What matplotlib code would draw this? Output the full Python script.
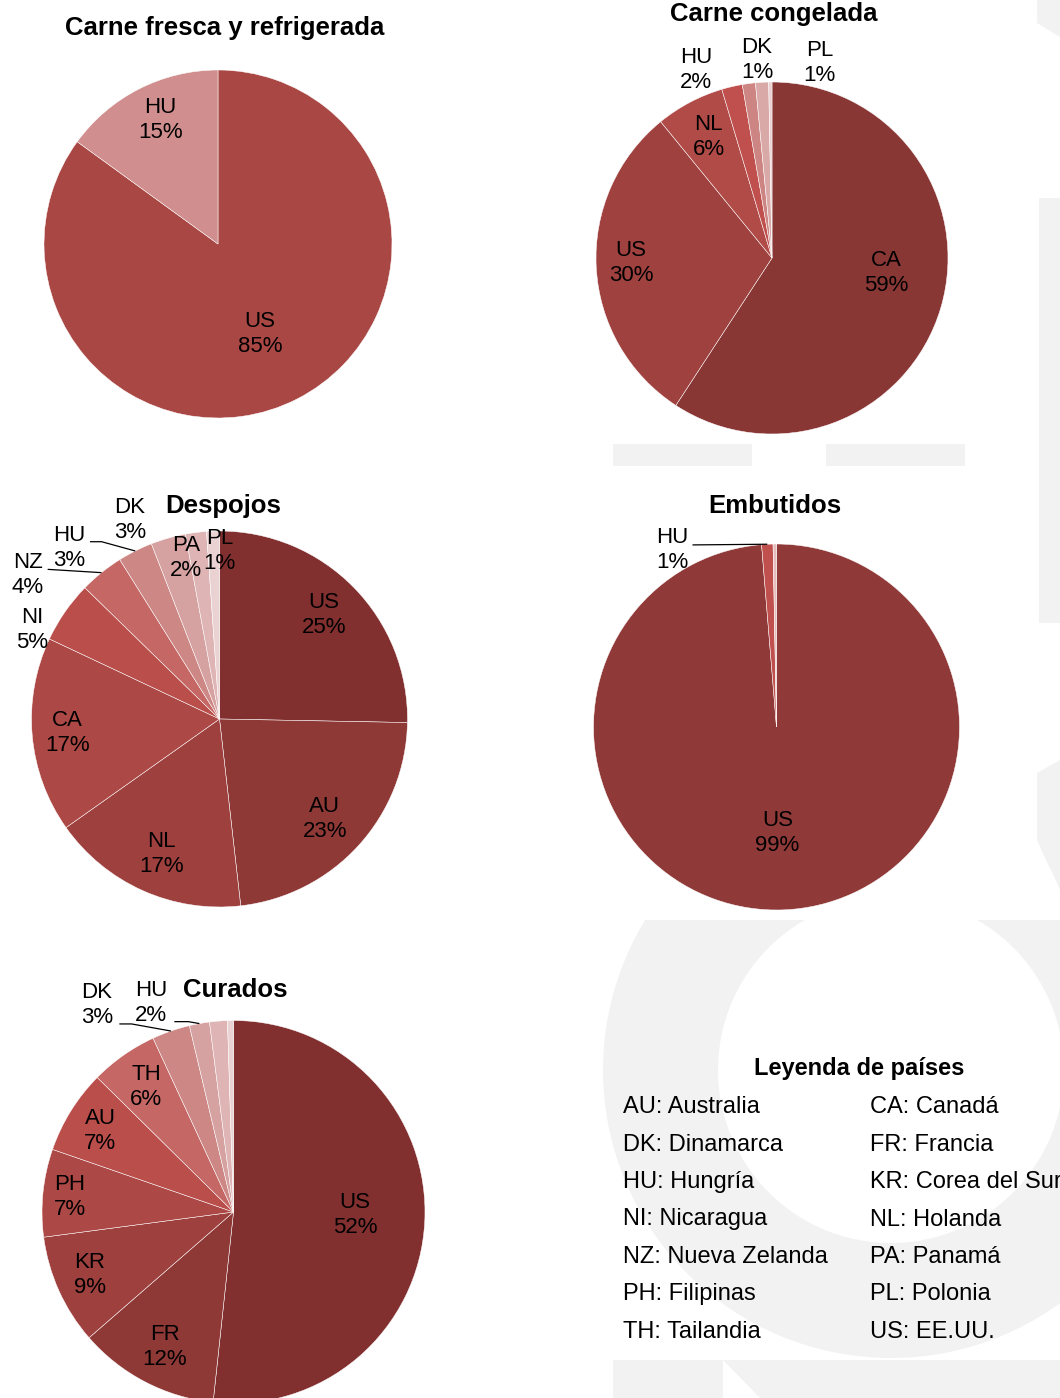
import matplotlib
matplotlib.use("Agg")
import matplotlib.pyplot as plt
from matplotlib.patches import Wedge, Rectangle, Polygon
import numpy as np

W, H = 1060, 1398
DPI = 100

plt.rcParams['font.family'] = ['Liberation Sans', 'DejaVu Sans']

# ---------------------------------------------------------------- data
fresca_paises = ["US", "HU"]
fresca_valores = [85.0, 15.0]

congelada_paises = ["CA", "US", "NL", "HU", "DK", "PL", ""]
congelada_valores = [59.2, 29.9, 6.3, 1.9, 1.2, 1.2, 0.3]

despojos_paises = ["US", "AU", "NL", "CA", "NI", "NZ", "HU", "DK", "PA", "PL"]
despojos_valores = [25.3, 22.9, 17.0, 16.8, 5.3, 3.8, 3.0, 3.0, 1.8, 1.1]

embutidos_paises = ["US", "HU", ""]
embutidos_valores = [98.7, 1.0, 0.3]

curados_paises = ["US", "FR", "KR", "PH", "AU", "TH", "DK", "HU", "", ""]
curados_valores = [51.7, 11.9, 9.3, 7.4, 7.1, 5.7, 3.2, 1.7, 1.5, 0.5]

leyenda_titulo = "Leyenda de países"
leyenda_col1 = ["AU: Australia", "DK: Dinamarca", "HU: Hungría", "NI: Nicaragua",
                "NZ: Nueva Zelanda", "PH: Filipinas", "TH: Tailandia"]
leyenda_col2 = ["CA: Canadá", "FR: Francia", "KR: Corea del Sur", "NL: Holanda",
                "PA: Panamá", "PL: Polonia", "US: EE.UU."]

# ---------------------------------------------------------------- styles
fresca_colores = ["#a94744", "#d08f8e"]
congelada_colores = ["#893735", "#9f413f", "#b14b48", "#c0504d", "#cd8583", "#d9a9a8", "#ead0d0"]
despojos_colores = ["#82302f", "#8f3937", "#9e403e", "#ac4845", "#b94e4b",
                    "#c46765", "#cd8785", "#d6a2a1", "#deb4b4", "#ebd2d2"]
embutidos_colores = ["#8f3a38", "#c0504d", "#e6bcbc"]
curados_colores = ["#82302f", "#8f3937", "#9e403e", "#ac4845", "#b94e4b",
                   "#c46765", "#cd8785", "#d6a2a1", "#deb4b4", "#ebd2d2"]

WATERMARK = "#f2f2f2"
LABEL_SIZE = 16
TITLE_SIZE = 18.5

fig = plt.figure(figsize=(W / DPI, H / DPI), dpi=DPI)
fig.patch.set_facecolor("white")

# ---------------------------------------------------------------- background logo
bg = fig.add_axes([0, 0, 1, 1], zorder=-5)
bg.set_xlim(0, W)
bg.set_ylim(H, 0)
bg.axis("off")

bg.add_patch(Polygon([(1037, 0), (1060, 0), (1060, 37), (1037, 23)], closed=True,
                     facecolor=WATERMARK, edgecolor="none"))
bg.add_patch(Rectangle((1039, 198), 30, 425, facecolor=WATERMARK, edgecolor="none"))
bg.add_patch(Rectangle((613, 444), 139, 22, facecolor=WATERMARK, edgecolor="none"))
bg.add_patch(Rectangle((826, 444), 139, 22, facecolor=WATERMARK, edgecolor="none"))
bg.add_patch(Polygon([(1060, 760), (1037, 773), (1037, 840), (1045, 858),
                      (1053, 874), (1060, 890)], closed=True,
                     facecolor=WATERMARK, edgecolor="none"))
ring = Wedge((891, 1070), 288, 0, 360, width=115, facecolor=WATERMARK, edgecolor="none")
bg.add_patch(ring)
ring.set_clip_path(Rectangle((590, 920), 480, 480, transform=bg.transData))
bg.add_patch(Rectangle((613, 1360), 460, 45, facecolor=WATERMARK, edgecolor="none"))
bg.add_patch(Polygon([(723, 1360), (723, 1400), (762, 1400)], closed=True,
                     facecolor="white", edgecolor="none"))


def px(x, y):
    """Pixel position (top-left origin) to figure fraction."""
    return x / W, 1 - y / H


def draw_pie(center, r, values, names, colors, label_pos, leaders, title, title_xy):
    cx, cy = center
    ax = fig.add_axes([(cx - r) / W, 1 - (cy + r) / H, 2 * r / W, 2 * r / H])
    wedges, _ = ax.pie(values, colors=colors, startangle=90, counterclock=False,
                       radius=1, wedgeprops=dict(edgecolor="white", linewidth=0.35))
    ax.set_xlim(-1, 1)
    ax.set_ylim(-1, 1)
    ax.set_aspect("equal")
    ax.axis("off")
    total = float(sum(values))
    for name, v, pos in zip(names, values, label_pos):
        if not name or pos is None:
            continue
        ax.text(pos[0], pos[1], f"{name}\n{v / total * 100:.0f}%", ha="center",
                va="center", fontsize=LABEL_SIZE, linespacing=1.25, clip_on=False)
    for idx, pts in leaders.items():
        w = wedges[idx]
        mid = np.deg2rad((w.theta1 + w.theta2) / 2)
        xs = [p[0] for p in pts] + [np.cos(mid)]
        ys = [p[1] for p in pts] + [np.sin(mid)]
        ax.plot(xs, ys, color="black", lw=0.9, clip_on=False, solid_capstyle="butt")
    tx, ty = px(*title_xy)
    fig.text(tx, ty, title, ha="center", va="baseline", fontsize=TITLE_SIZE,
             fontweight="bold")
    return ax


# label placement in pie-radius units
draw_pie((218, 244), 174, fresca_valores, fresca_paises, fresca_colores,
         [(0.24, -0.52), (-0.33, 0.71)], {},
         "Carne fresca y refrigerada", (225, 35))

draw_pie((772, 258), 176, congelada_valores, congelada_paises, congelada_colores,
         [(0.65, -0.085), (-0.80, -0.03), (-0.36, 0.69), (-0.43, 1.07),
          (-0.085, 1.125), (0.27, 1.11), None], {},
         "Carne congelada", (774, 20.5))

draw_pie((219.5, 719), 188, despojos_valores, despojos_paises, despojos_colores,
         [(0.556, 0.553), (0.56, -0.53), (-0.31, -0.72), (-0.81, -0.074),
          (-0.997, 0.473), (-1.019, 0.766), (-0.80, 0.91), (-0.476, 1.06),
          (-0.178, 0.856), (0.0, 0.894)],
         {5: [(-0.914, 0.796)], 6: [(-0.689, 0.943), (-0.627, 0.943)]},
         "Despojos", (223, 513))

draw_pie((776.5, 727), 183, embutidos_valores, embutidos_paises, embutidos_colores,
         [(0.005, -0.58), (-0.568, 0.967), None],
         {1: [(-0.459, 0.995)]},
         "Embutidos", (775, 513))

draw_pie((233.5, 1212), 191.5, curados_valores, curados_paises, curados_colores,
         [(0.634, -0.016), (-0.358, -0.705), (-0.749, -0.329), (-0.854, 0.078),
          (-0.697, 0.423), (-0.457, 0.653), (-0.713, 1.081), (-0.431, 1.091),
          None, None],
         {6: [(-0.596, 0.982), (-0.532, 0.982)], 7: [(-0.309, 0.994), (-0.236, 0.994)]},
         "Curados", (235, 997))

# ---------------------------------------------------------------- country legend
tx, ty = px(859, 1075)
fig.text(tx, ty, leyenda_titulo, ha="center", va="baseline", fontsize=17,
         fontweight="bold")
for i, (a, b) in enumerate(zip(leyenda_col1, leyenda_col2)):
    y = 1113.3 + i * 37.4
    fig.text(*px(623, y), a, ha="left", va="baseline", fontsize=17)
    fig.text(*px(870, y), b, ha="left", va="baseline", fontsize=17)

fig.savefig("out.png", dpi=DPI, facecolor="white")
